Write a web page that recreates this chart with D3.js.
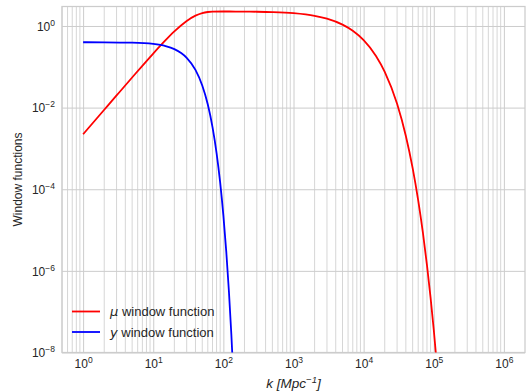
<!DOCTYPE html>
<html>
<head>
<meta charset="utf-8">
<script src="https://cdn.jsdelivr.net/npm/d3@7"></script>
<style>
  html, body { margin: 0; padding: 0; background: #fff; }
  svg { display: block; }
  text { fill: #262626; font-family: "Liberation Sans", Arial, sans-serif; }
</style>
</head>
<body>
<svg id="chart" width="526" height="392"></svg>
<script>
// ---- data ----
const kMu = [1, 2, 3, 5, 10, 15, 20, 30, 40, 50, 60, 70, 100, 150, 200, 300, 500, 1000, 2000, 3000, 5000, 7000,
             10000, 15000, 20000, 30000, 40000, 50000, 60000, 70000, 80000, 90000, 100000, 110000];
const wMu = [0.00222, 0.00885, 0.01986, 0.0547, 0.2111, 0.4476, 0.7337, 1.3267, 1.793, 2.0707, 2.2001, 2.2478,
             2.2639, 2.2579, 2.2506, 2.2326, 2.1883, 2.0552, 1.7717, 1.5085, 1.0773, 0.7622,
             0.4498, 0.1847, 0.0753, 0.01239, 0.00202, 3.28e-4, 5.32e-5, 8.6e-6, 1.39e-6, 2.24e-7, 3.61e-8, 5.8e-9];
const kY = [1, 2, 5, 10, 15, 20, 25, 30, 40, 50, 60, 70, 80, 90, 100, 110, 120, 130, 140];
const wY = [0.3996, 0.3984, 0.3904, 0.3628, 0.3211, 0.2707, 0.2173, 0.1661, 0.0838, 0.03482, 0.01189, 0.003342,
            7.72e-4, 1.467e-4, 2.29e-5, 2.95e-6, 3.12e-7, 2.72e-8, 1.94e-9];
const xTickExps = [0, 1, 2, 3, 4, 5, 6];
const yTickExps = [0, -2, -4, -6, -8];
const xDomain = [0.5, 2e6];
const yDomain = [1e-8, 3];
const seriesNames = ["μ", "y"];
const seriesColors = ["#ff0000", "#0000ff"];

// ---- layout ----
const svg = d3.select("#chart");
const L = 62, R = 525, T = 6.5, B = 352.5;
const x = d3.scaleLog().domain(xDomain).range([L, R]);
const y = d3.scaleLog().domain(yDomain).range([B, T]);

// minor x grid
const minor = [];
for (let e = -1; e <= 6; e++) for (let d = 2; d <= 9; d++) {
  const v = d * Math.pow(10, e);
  if (v >= xDomain[0] && v < xDomain[1]) minor.push(v);
}
svg.append("g").selectAll("line").data(minor).join("line")
  .attr("x1", d => x(d)).attr("x2", d => x(d))
  .attr("y1", T).attr("y2", B)
  .attr("stroke", "#d6d6d6").attr("stroke-width", 1);

// major x grid + labels via axis
const xTicks = xTickExps.map(e => Math.pow(10, e));
const gx = svg.append("g").attr("transform", `translate(0,${B})`)
  .call(d3.axisBottom(x).tickValues(xTicks).tickSize(-(B - T)).tickFormat(""));
gx.select(".domain").remove();
gx.selectAll(".tick line").attr("stroke", "#cccccc").attr("stroke-width", 1);
gx.selectAll(".tick").each(function(d, i) {
  const t = d3.select(this).append("text")
    .attr("y", 15).attr("text-anchor", "middle")
    .attr("font-size", 12).attr("fill", "#262626");
  t.append("tspan").text("10");
  t.append("tspan").attr("font-size", 8.5).attr("dy", "-0.55em")
    .text(String(xTickExps[i]).replace("-", "\u2212"));
});

// major y grid + labels
const yTicks = yTickExps.map(e => Math.pow(10, e));
const gy = svg.append("g").attr("transform", `translate(${L},0)`)
  .call(d3.axisLeft(y).tickValues(yTicks).tickSize(-(R - L)).tickFormat(""));
gy.select(".domain").remove();
gy.selectAll(".tick line").attr("stroke", "#cccccc").attr("stroke-width", 1);
gy.selectAll(".tick").each(function(d, i) {
  const t = d3.select(this).append("text")
    .attr("x", -7).attr("text-anchor", "end")
    .attr("font-size", 12).attr("dy", "0.36em").attr("fill", "#262626");
  t.append("tspan").text("10");
  t.append("tspan").attr("font-size", 8.5).attr("dy", "-0.6em")
    .text(String(yTickExps[i]).replace("-", "\u2212"));
});

// frame
svg.append("rect").attr("x", L).attr("y", T).attr("width", R - L).attr("height", B - T)
  .attr("fill", "none").attr("stroke", "#cccccc").attr("stroke-width", 1.25);

// clip
svg.append("clipPath").attr("id", "clip").append("rect")
  .attr("x", L).attr("y", T).attr("width", R - L).attr("height", B - T);

const line = d3.line().x(d => x(d[0])).y(d => y(d[1])).curve(d3.curveMonotoneX);
const series = [d3.zip(kMu, wMu), d3.zip(kY, wY)];
svg.append("g").attr("clip-path", "url(#clip)").selectAll("path").data(series).join("path")
  .attr("d", line).attr("fill", "none")
  .attr("stroke", (d, i) => seriesColors[i]).attr("stroke-width", 1.8)
  .attr("stroke-linejoin", "round");

// legend
const lg = svg.append("g");
seriesNames.forEach((name, i) => {
  const yy = 311.5 + i * 20.5;
  lg.append("line").attr("x1", 72).attr("x2", 100).attr("y1", yy).attr("y2", yy)
    .attr("stroke", seriesColors[i]).attr("stroke-width", 1.8);
  const t = lg.append("text").attr("x", 110).attr("y", yy).attr("dy", "0.36em").attr("font-size", 13);
  t.append("tspan").attr("font-family", "DejaVu Sans").attr("font-style", "italic").text(name);
  t.append("tspan").text(" window function");
});

// axis labels
const xl = svg.append("text").attr("x", (L + R) / 2).attr("y", 388)
  .attr("text-anchor", "middle").attr("font-size", 13.5)
  .attr("font-family", "DejaVu Sans").attr("font-style", "italic");
xl.append("tspan").text("k [Mpc");
xl.append("tspan").attr("font-size", 9.5).attr("dy", "-0.55em").text("\u22121");
xl.append("tspan").attr("dy", "0.4em").text("]");

svg.append("text").attr("transform", `translate(22,${(T + B) / 2}) rotate(-90)`)
  .attr("text-anchor", "middle").attr("font-size", 12).text("Window functions");
</script>
</body>
</html>
